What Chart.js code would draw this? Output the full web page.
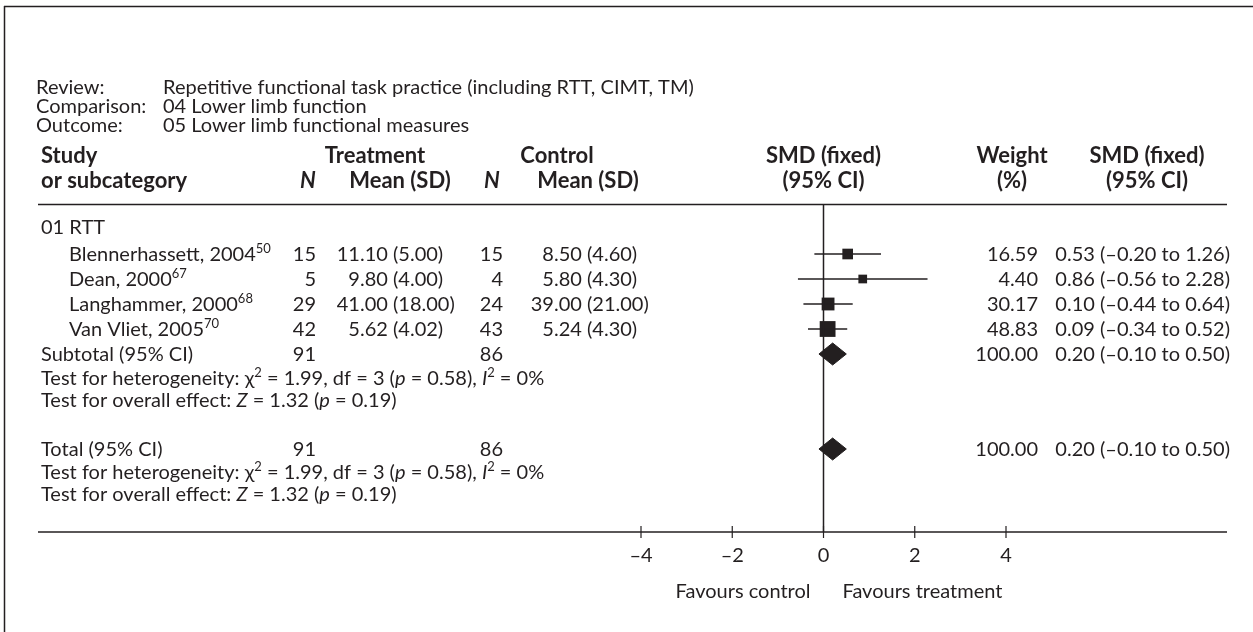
<!DOCTYPE html>
<html>
<head>
<meta charset="utf-8">
<script src="https://cdn.jsdelivr.net/npm/chart.js@4.4.1/dist/chart.umd.min.js"></script>
<style>
  html, body { margin: 0; padding: 0; background: #fff; }
  #wrap { position: relative; width: 1253px; height: 632px; }
</style>
</head>
<body>
<div id="wrap"><canvas id="forest"></canvas></div>
<script>
// ---- data ----
const studies = ['Blennerhassett, 2004', 'Dean, 2000', 'Langhammer, 2000', 'Van Vliet, 2005'];
const refs = ['50', '67', '68', '70'];
const treatN = [15, 5, 29, 42];
const treatMean = [11.10, 9.80, 41.00, 5.62];
const treatSD = [5.00, 4.00, 18.00, 4.02];
const ctrlN = [15, 4, 24, 43];
const ctrlMean = [8.50, 5.80, 39.00, 5.24];
const ctrlSD = [4.60, 4.30, 21.00, 4.30];
const weights = [16.59, 4.40, 30.17, 48.83];
const smd = [0.53, 0.86, 0.10, 0.09];
const ciLow = [-0.20, -0.56, -0.44, -0.34];
const ciHigh = [1.26, 2.28, 0.64, 0.52];
const totalN = [91, 86];
const totalWeight = 100.00;
const pooled = [0.20, -0.10, 0.50];   // estimate, low, high
const hetStats = [1.99, 3, 0.58, 0];  // chi2, df, p, I2
const effectStats = [1.32, 0.19];     // Z, p
const xTicks = [-4, -2, 0, 2, 4];

// ---- layout ----
const INK = '#231f20';
const FONT = 'Lato, "DejaVu Sans", sans-serif';
const ROW = 25;               // px per row slot on the y scale
const TOP = 204, AXIS_Y = 532;
const studySlots = [2, 3, 4, 5];
const SLOT = { group: 0.9, subtotal: 6, het: 6.95, effect: 7.85, total: 9.8, het2: 10.7, effect2: 11.6 };
const LINE_L = 38, LINE_R = 1227;

const fmt = v => v.toFixed(2).replace('-', '\u2013');

function fontFor(s) {
  if (s === 'i') return 'italic 20px ' + FONT;
  if (s === 'sup') return '13px ' + FONT;
  if (s === 'b') return 'bold 22px ' + FONT;
  if (s === 'bi') return 'italic bold 22px ' + FONT;
  return '20px ' + FONT;
}

function drawRich(ctx, runs, x, y, align) {
  const widths = runs.map(r => { ctx.font = fontFor(r[1]); return ctx.measureText(r[0]).width; });
  const total = widths.reduce((a, b) => a + b, 0);
  let cx = align === 'right' ? x - total : align === 'center' ? x - total / 2 : x;
  runs.forEach((r, i) => {
    ctx.font = fontFor(r[1]);
    ctx.fillText(r[0], cx, r[1] === 'sup' ? y - 8 : y);
    cx += widths[i];
  });
}

function hline(ctx, x1, x2, y, w) {
  ctx.beginPath(); ctx.lineWidth = w; ctx.moveTo(x1, y); ctx.lineTo(x2, y); ctx.stroke();
}
function vline(ctx, x, y1, y2, w) {
  ctx.beginPath(); ctx.lineWidth = w; ctx.moveTo(x, y1); ctx.lineTo(x, y2); ctx.stroke();
}

/**
 * Draws the table text, frame, axis and zero line around the plot.
 */
const tablePlugin = {
  id: 'forestTable',
  afterDraw(chart) {
    const ctx = chart.ctx;
    const xs = chart.scales.x, ys = chart.scales.y;
    const base = slot => ys.getPixelForValue(slot) + 7;
    const x0 = xs.getPixelForValue(0);
    ctx.save();
    ctx.strokeStyle = INK;
    ctx.fillStyle = INK;
    ctx.textBaseline = 'alphabetic';

    // frame
    hline(ctx, 4, 1253, 6.5, 1.5);
    vline(ctx, 4.5, 6, 632, 1.5);

    // review block
    const info = [['Review:', 'Repetitive functional task practice (including RTT, CIMT, TM)'],
                  ['Comparison:', '04 Lower limb function'],
                  ['Outcome:', '05 Lower limb functional measures']];
    info.forEach((row, i) => {
      drawRich(ctx, [[row[0], '']], 36, 94 + i * 19, 'left');
      drawRich(ctx, [[row[1], '']], 163, 94 + i * 19, 'left');
    });

    // column headers
    const h1 = 163, h2 = 188;
    drawRich(ctx, [['Study', 'b']], 41, h1, 'left');
    drawRich(ctx, [['or subcategory', 'b']], 41, h2, 'left');
    drawRich(ctx, [['Treatment', 'b']], 375, h1, 'center');
    drawRich(ctx, [['N', 'bi']], 308, h2, 'center');
    drawRich(ctx, [['Mean (SD)', 'b']], 400, h2, 'center');
    drawRich(ctx, [['Control', 'b']], 557, h1, 'center');
    drawRich(ctx, [['N', 'bi']], 492, h2, 'center');
    drawRich(ctx, [['Mean (SD)', 'b']], 588, h2, 'center');
    drawRich(ctx, [['SMD (fixed)', 'b']], x0, h1, 'center');
    drawRich(ctx, [['(95% CI)', 'b']], x0, h2, 'center');
    drawRich(ctx, [['Weight', 'b']], 1012, h1, 'center');
    drawRich(ctx, [['(%)', 'b']], 1012, h2, 'center');
    drawRich(ctx, [['SMD (fixed)', 'b']], 1147, h1, 'center');
    drawRich(ctx, [['(95% CI)', 'b']], 1147, h2, 'center');

    hline(ctx, LINE_L, LINE_R, TOP + 0.5, 1.5);

    // group + study rows
    drawRich(ctx, [['01 RTT', '']], 41, base(SLOT.group), 'left');
    ctx.font = fontFor('');
    const sp = ctx.measureText(' ').width;
    studies.forEach((name, i) => {
      const y = base(studySlots[i]);
      drawRich(ctx, [[name, ''], [refs[i], 'sup']], 69, y, 'left');
      drawRich(ctx, [[String(treatN[i]), '']], 316, y, 'right');
      drawRich(ctx, [[treatMean[i].toFixed(2), '']], 393 - sp, y, 'right');
      drawRich(ctx, [['(' + treatSD[i].toFixed(2) + ')', '']], 393, y, 'left');
      drawRich(ctx, [[String(ctrlN[i]), '']], 503, y, 'right');
      drawRich(ctx, [[ctrlMean[i].toFixed(2), '']], 587 - sp, y, 'right');
      drawRich(ctx, [['(' + ctrlSD[i].toFixed(2) + ')', '']], 587, y, 'left');
      drawRich(ctx, [[weights[i].toFixed(2), '']], 1038, y, 'right');
      drawRich(ctx, [[fmt(smd[i]) + ' (' + fmt(ciLow[i]) + ' to ' + fmt(ciHigh[i]) + ')', '']], 1230, y, 'right');
    });

    const pooledText = fmt(pooled[0]) + ' (' + fmt(pooled[1]) + ' to ' + fmt(pooled[2]) + ')';
    const hetRuns = [['Test for heterogeneity: \u03c7', ''], ['2', 'sup'],
      [' = ' + hetStats[0].toFixed(2) + ', df = ' + hetStats[1] + ' (', ''], ['p', 'i'],
      [' = ' + hetStats[2].toFixed(2) + '), ', ''], ['I', 'i'], ['2', 'sup'], [' = ' + hetStats[3] + '%', '']];
    const effRuns = [['Test for overall effect: ', ''], ['Z', 'i'],
      [' = ' + effectStats[0].toFixed(2) + ' (', ''], ['p', 'i'], [' = ' + effectStats[1].toFixed(2) + ')', '']];

    [['Subtotal (95% CI)', SLOT.subtotal, SLOT.het, SLOT.effect],
     ['Total (95% CI)', SLOT.total, SLOT.het2, SLOT.effect2]].forEach(([label, s, sh, se]) => {
      const y = base(s);
      drawRich(ctx, [[label, '']], 41, y, 'left');
      drawRich(ctx, [[String(totalN[0]), '']], 316, y, 'right');
      drawRich(ctx, [[String(totalN[1]), '']], 503, y, 'right');
      drawRich(ctx, [[totalWeight.toFixed(2), '']], 1038, y, 'right');
      drawRich(ctx, [[pooledText, '']], 1230, y, 'right');
      drawRich(ctx, hetRuns, 41, base(sh), 'left');
      drawRich(ctx, effRuns, 41, base(se), 'left');
    });

    // zero line, axis, ticks
    vline(ctx, x0, TOP, AXIS_Y, 1.5);
    hline(ctx, LINE_L, LINE_R, AXIS_Y, 1.5);
    xTicks.forEach(t => {
      const tx = xs.getPixelForValue(t);
      vline(ctx, tx, AXIS_Y - 6, AXIS_Y + 6, 1.2);
      drawRich(ctx, [[String(t).replace('-', '\u2013'), '']], tx, 562, 'center');
    });
    drawRich(ctx, [['Favours control', '']], x0 - 13, 598, 'right');
    drawRich(ctx, [['Favours treatment', '']], x0 + 19, 598, 'left');
    ctx.restore();
  }
};

// ---- datasets ----
const ciSets = studies.map((s, i) => ({
  type: 'line',
  data: [{ x: ciLow[i], y: studySlots[i] }, { x: ciHigh[i], y: studySlots[i] }],
  borderColor: INK, borderWidth: 1.5, pointRadius: 0, fill: false
}));

const squareSet = {
  type: 'scatter',
  data: smd.map((v, i) => ({ x: v, y: studySlots[i] })),
  pointStyle: 'rect',
  // square side grows with study weight
  pointRadius: weights.map(w => (8 + 0.16 * w) / 1.414),
  backgroundColor: INK, borderColor: INK, borderWidth: 0
};

function diamond(slot) {
  const h = 11 / ROW;
  return {
    type: 'line',
    data: [{ x: pooled[1], y: slot }, { x: pooled[0], y: slot - h }, { x: pooled[2], y: slot },
           { x: pooled[0], y: slot + h }, { x: pooled[1], y: slot }],
    borderColor: INK, borderWidth: 1, backgroundColor: INK,
    pointRadius: 0, tension: 0, fill: 'shape'
  };
}

const W = 1253, H = 632;
new Chart(document.getElementById('forest'), {
  type: 'scatter',
  data: { datasets: [...ciSets, squareSet, diamond(SLOT.subtotal), diamond(SLOT.total)] },
  options: {
    responsive: true,
    maintainAspectRatio: false,
    animation: false,
    layout: { padding: { left: 641, right: W - 1006, top: TOP, bottom: H - AXIS_Y } },
    plugins: { legend: { display: false }, tooltip: { enabled: false } },
    scales: {
      x: { type: 'linear', min: -4, max: 4, display: false },
      y: { type: 'linear', min: 0, max: (AXIS_Y - TOP) / ROW, reverse: true, display: false }
    }
  },
  plugins: [tablePlugin]
});
</script>
</body>
</html>
